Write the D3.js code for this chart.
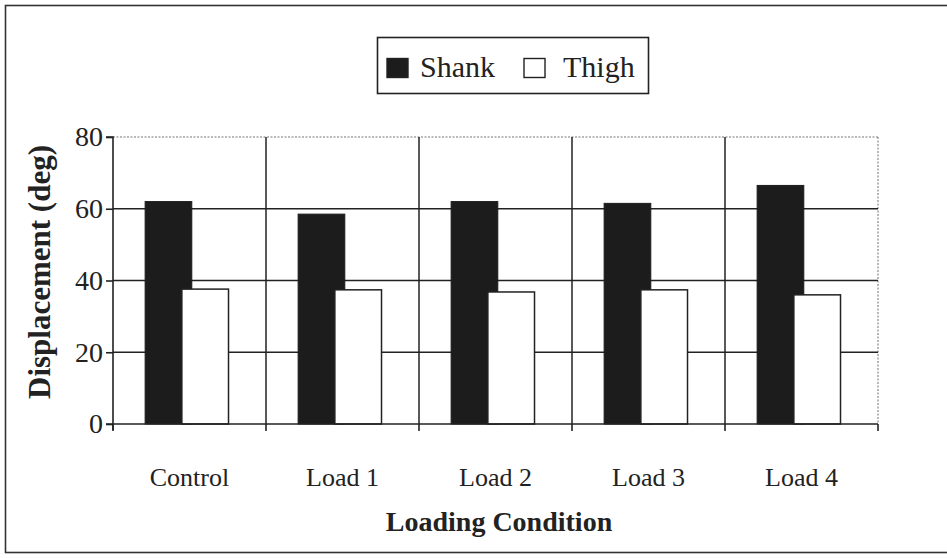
<!DOCTYPE html>
<html>
<head>
<meta charset="utf-8">
<script src="https://cdn.jsdelivr.net/npm/d3@7/dist/d3.min.js"></script>
<style>
  html, body { margin: 0; padding: 0; background: #fff; }
  svg { display: block; }
  text { font-family: "Liberation Serif", "Times New Roman", serif; fill: #222; }
</style>
</head>
<body>
<svg id="chart" width="947" height="558"></svg>
<script>
// Joint displacement per loading condition
const categories = ["Control", "Load 1", "Load 2", "Load 3", "Load 4"];
const seriesNames = ["Shank", "Thigh"];
const shankValues = [62, 58.5, 62, 61.5, 66.5];
const thighValues = [37.6, 37.4, 36.8, 37.4, 36];
const yTicks = [0, 20, 40, 60, 80];

const SERIF = "'Liberation Serif', 'Times New Roman', serif";
const svg = d3.select("#chart");
const W = 947, H = 558;

const plot = { left: 113, right: 878, top: 137, bottom: 424 };

const x = d3.scaleBand().domain(categories).range([plot.left, plot.right]).padding(0);
const y = d3.scaleLinear().domain([0, 80]).range([plot.bottom, plot.top]);

const bw = x.bandwidth();
const barW = bw * 0.305;
const shankOff = bw * 0.21;
const thighOff = shankOff + bw * 0.24;

// outer frame
svg.append("rect")
  .attr("x", 5.5).attr("y", 5.5).attr("width", W + 10).attr("height", H - 11)
  .attr("fill", "none").attr("stroke", "#333").attr("stroke-width", 1.6);

// top and right plot border (dotted)
svg.append("line")
  .attr("x1", plot.left).attr("x2", plot.right).attr("y1", y(80)).attr("y2", y(80))
  .attr("stroke", "#777").attr("stroke-width", 1.2).attr("stroke-dasharray", "2,1.5");
svg.append("line")
  .attr("x1", plot.right).attr("x2", plot.right).attr("y1", y(80)).attr("y2", y(0))
  .attr("stroke", "#888").attr("stroke-width", 1.2).attr("stroke-dasharray", "2,1.5");

// horizontal gridlines
svg.append("g").selectAll("line")
  .data(yTicks.filter(v => v > 0 && v < 80))
  .join("line")
  .attr("x1", plot.left).attr("x2", plot.right)
  .attr("y1", d => y(d)).attr("y2", d => y(d))
  .attr("stroke", "#222").attr("stroke-width", 1.6);

// vertical gridlines at category boundaries
svg.append("g").selectAll("line")
  .data(categories.slice(1))
  .join("line")
  .attr("x1", d => x(d)).attr("x2", d => x(d))
  .attr("y1", y(80)).attr("y2", y(0))
  .attr("stroke", "#222").attr("stroke-width", 1.5);

// bars
const bars = svg.append("g");
bars.selectAll("rect.shank")
  .data(categories)
  .join("rect")
  .attr("class", "shank")
  .attr("x", d => x(d) + shankOff)
  .attr("width", barW)
  .attr("y", (d, i) => y(shankValues[i]))
  .attr("height", (d, i) => y(0) - y(shankValues[i]))
  .attr("fill", "#1c1c1c").attr("stroke", "#1c1c1c").attr("stroke-width", 1);
bars.selectAll("rect.thigh")
  .data(categories)
  .join("rect")
  .attr("class", "thigh")
  .attr("x", d => x(d) + thighOff)
  .attr("width", barW)
  .attr("y", (d, i) => y(thighValues[i]))
  .attr("height", (d, i) => y(0) - y(thighValues[i]))
  .attr("fill", "#fff").attr("stroke", "#222").attr("stroke-width", 1.5);

// y axis
const yAxis = svg.append("g")
  .attr("transform", `translate(${plot.left},0)`)
  .call(d3.axisLeft(y).tickValues(yTicks).tickSize(7).tickPadding(3).tickFormat(d3.format("d")));
yAxis.select(".domain").attr("stroke", "#222").attr("stroke-width", 1.6)
  .attr("d", `M-7,${y(80)}H0V${y(0) + 6}`);
yAxis.selectAll(".tick line").attr("stroke", "#222").attr("stroke-width", 1.6);
yAxis.selectAll(".tick text")
  .style("font-family", SERIF)
  .style("font-size", "28px").attr("fill", "#333");

// x axis
const xAxis = svg.append("g")
  .attr("transform", `translate(0,${plot.bottom})`)
  .call(d3.axisBottom(x).tickSize(0).tickPadding(44));
xAxis.select(".domain").attr("stroke", "#222").attr("stroke-width", 1.6)
  .attr("d", `M${plot.left - 7},0H${plot.right}`);
xAxis.selectAll(".tick text")
  .style("font-family", SERIF)
  .style("font-size", "26px").attr("fill", "#333");
// boundary tick marks below the axis
xAxis.append("g").selectAll("line")
  .data(categories.concat(["end"]))
  .join("line")
  .attr("x1", (d, i) => i < categories.length ? x(d) : plot.right)
  .attr("x2", (d, i) => i < categories.length ? x(d) : plot.right)
  .attr("y1", 0).attr("y2", 7)
  .attr("stroke", "#222").attr("stroke-width", 1.6);

// axis titles
svg.append("text")
  .attr("transform", `translate(50,272) rotate(-90)`)
  .attr("text-anchor", "middle")
  .style("font-family", SERIF)
  .style("font-size", "31px").style("font-weight", "bold")
  .text("Displacement (deg)");
svg.append("text")
  .attr("x", 499).attr("y", 531)
  .attr("text-anchor", "middle")
  .style("font-family", SERIF)
  .style("font-size", "28px").style("font-weight", "bold")
  .text("Loading Condition");

// legend
const legend = svg.append("g");
legend.append("rect")
  .attr("x", 377.5).attr("y", 37.5).attr("width", 271).attr("height", 56)
  .attr("fill", "#fff").attr("stroke", "#222").attr("stroke-width", 1.6);
const legendItems = [
  { name: seriesNames[0], fill: "#1c1c1c", bx: 387, tx: 420 },
  { name: seriesNames[1], fill: "#fff", bx: 524, tx: 563 }
];
legendItems.forEach(it => {
  legend.append("rect")
    .attr("x", it.bx).attr("y", 58.5).attr("width", 21).attr("height", 19)
    .attr("fill", it.fill).attr("stroke", "#222").attr("stroke-width", 1.4);
  legend.append("text")
    .attr("x", it.tx).attr("y", 77)
    .style("font-family", SERIF)
    .style("font-size", "30px").attr("fill", "#333")
    .text(it.name);
});
</script>
</body>
</html>
